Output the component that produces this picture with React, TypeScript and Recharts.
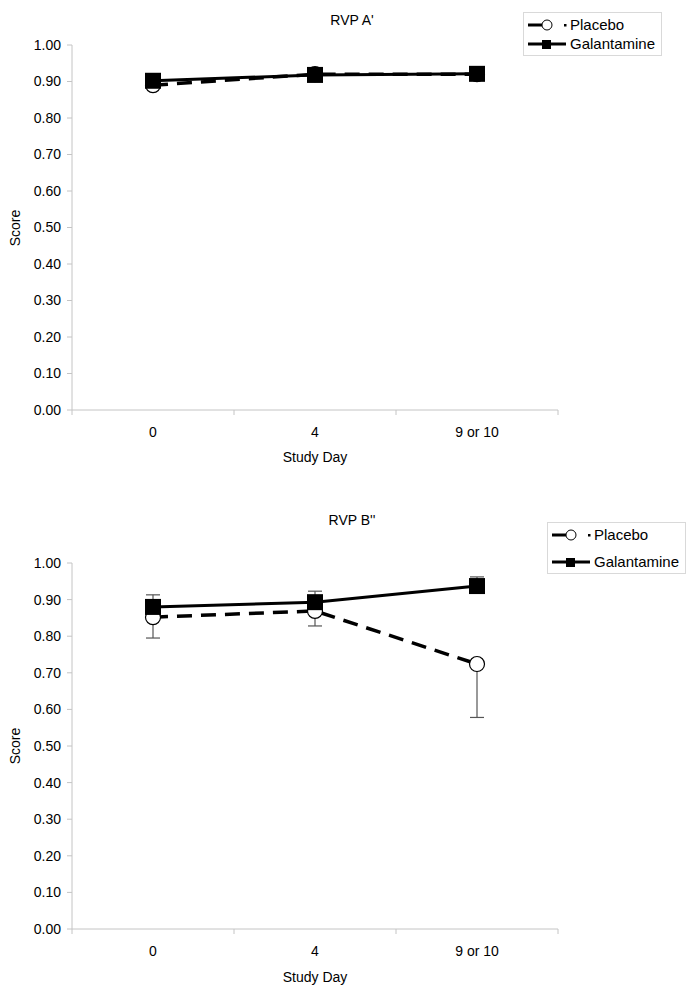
import React from 'react';
import {
  LineChart,
  Line,
  XAxis,
  YAxis,
  ErrorBar
} from 'recharts';

// study days (categories)
const days = ['0', '4', '9 or 10'];
const scoreTicks = [0, 0.1, 0.2, 0.3, 0.4, 0.5, 0.6, 0.7, 0.8, 0.9, 1.0];

// RVP A'
const placeboA = [0.89, 0.92, 0.92];
const galantamineA = [0.902, 0.918, 0.921];

// RVP B''
const placeboB = [0.852, 0.869, 0.724];
const placeboBErrDown = [0.057, 0.041, 0.146];
const galantamineB = [0.88, 0.893, 0.937];
const galantamineBErrUp = [0.033, 0.03, 0.025];

const FONT = '"Liberation Sans", Arial, sans-serif';
const AXIS_GREY = '#c4c4c4';
const PLOT_LEFT = 72;
const PLOT_RIGHT = 558;
const BAND = (PLOT_RIGHT - PLOT_LEFT) / days.length;

const SquareDot = (props: any) => {
  const { cx, cy } = props;
  if (cx == null || cy == null) return null;
  return <rect x={cx - 8} y={cy - 8} width={16} height={16} fill="#000" />;
};

const CircleDot = (props: any) => {
  const { cx, cy } = props;
  if (cx == null || cy == null) return null;
  return <circle cx={cx} cy={cy} r={7.5} fill="#fff" stroke="#000" strokeWidth={1.2} />;
};

// label in the middle of each band, tick marks on the band edges
const DayTick = (props: any) => {
  const { x, y, payload, index } = props;
  return (
    <g>
      <line x1={x - BAND / 2} x2={x - BAND / 2} y1={y} y2={y + 5} stroke={AXIS_GREY} />
      {index === days.length - 1 && (
        <line x1={x + BAND / 2} x2={x + BAND / 2} y1={y} y2={y + 5} stroke={AXIS_GREY} />
      )}
      <text x={x} y={y + 27} textAnchor="middle" fontSize={14} fontFamily={FONT} fill="#000">
        {payload.value}
      </text>
    </g>
  );
};

const LegendBox = ({ left, top, rowGap }: { left: number; top: number; rowGap: number }) => (
  <div
    style={{
      position: 'absolute',
      left,
      top,
      border: '1px solid #d9d9d9',
      background: '#fff',
      padding: '3px 6px 3px 4px',
      fontFamily: FONT,
      fontSize: 15,
      color: '#000',
      lineHeight: '17px'
    }}
  >
    <div style={{ display: 'flex', alignItems: 'center' }}>
      <svg width={42} height={14}>
        <line x1={0} x2={14} y1={7} y2={7} stroke="#000" strokeWidth={3} />
        <circle cx={19} cy={7} r={5} fill="#fff" stroke="#000" strokeWidth={1} />
        <rect x={36} y={6} width={2.5} height={2.5} fill="#000" />
      </svg>
      <span>Placebo</span>
    </div>
    <div style={{ display: 'flex', alignItems: 'center', marginTop: rowGap }}>
      <svg width={42} height={14}>
        <line x1={0} x2={38} y1={7} y2={7} stroke="#000" strokeWidth={3} />
        <rect x={14} y={3} width={9} height={9} fill="#000" />
      </svg>
      <span>Galantamine</span>
    </div>
  </div>
);

interface PanelProps {
  title: string;
  height: number;
  plotTop: number;
  plotBottom: number;
  placebo: number[];
  galantamine: number[];
  placeboErr?: number[];
  galantamineErr?: number[];
  legendLeft: number;
  legendTop: number;
  legendGap: number;
  xLabelOffset: number;
}

const Panel = ({
  title,
  height,
  plotTop,
  plotBottom,
  placebo,
  galantamine,
  placeboErr,
  galantamineErr,
  legendLeft,
  legendTop,
  legendGap,
  xLabelOffset
}: PanelProps) => {
  const data = days.map((d, i) => ({
    day: d,
    placebo: placebo[i],
    galantamine: galantamine[i],
    pErr: placeboErr ? [placeboErr[i], 0] : undefined,
    gErr: galantamineErr ? [0, galantamineErr[i]] : undefined
  }));
  const plotMid = (plotTop + plotBottom) / 2;

  return (
    <div style={{ position: 'relative', width: 690, height }}>
      <LineChart
        width={690}
        height={height}
        data={data}
        margin={{ top: plotTop, right: 690 - PLOT_RIGHT, bottom: height - plotBottom - 30, left: 0 }}
      >
        <XAxis
          dataKey="day"
          scale="band"
          height={30}
          axisLine={{ stroke: AXIS_GREY }}
          tickLine={false}
          tickSize={0}
          tickMargin={0}
          tick={<DayTick />}
          interval={0}
          label={{ value: 'Study Day', position: 'bottom', offset: xLabelOffset, fontSize: 14, fontFamily: FONT, fill: '#000' }}
        />
        <YAxis
          width={PLOT_LEFT}
          domain={[0, 1]}
          ticks={scoreTicks}
          interval={0}
          tickFormatter={(v: number) => v.toFixed(2)}
          axisLine={{ stroke: AXIS_GREY }}
          tickLine={{ stroke: AXIS_GREY }}
          tickSize={5}
          tickMargin={6}
          tick={{ fontSize: 14, fontFamily: FONT, fill: '#000' }}
        />
        <Line
          dataKey="placebo"
          name="Placebo"
          stroke="#000"
          strokeWidth={3.5}
          strokeDasharray="15 9"
          dot={<CircleDot />}
          activeDot={false}
          isAnimationActive={false}
        >
          {placeboErr && (
            <ErrorBar dataKey="pErr" direction="y" width={7} stroke="#555" strokeWidth={1.2} />
          )}
        </Line>
        <Line
          dataKey="galantamine"
          name="Galantamine"
          stroke="#000"
          strokeWidth={3}
          dot={<SquareDot />}
          activeDot={false}
          isAnimationActive={false}
        >
          {galantamineErr && (
            <ErrorBar dataKey="gErr" direction="y" width={7} stroke="#555" strokeWidth={1.2} />
          )}
        </Line>
      </LineChart>
      <div
        style={{
          position: 'absolute',
          left: 352,
          top: 12,
          transform: 'translateX(-50%)',
          whiteSpace: 'nowrap',
          fontFamily: FONT,
          fontSize: 14
        }}
      >
        {title}
      </div>
      <div
        style={{
          position: 'absolute',
          left: 15,
          top: plotMid,
          transform: 'translate(-50%, -50%) rotate(-90deg)',
          fontFamily: FONT,
          fontSize: 14
        }}
      >
        Score
      </div>
      <LegendBox left={legendLeft} top={legendTop} rowGap={legendGap} />
    </div>
  );
};

export default function App() {
  return (
    <div style={{ position: 'absolute', left: 0, top: 0, width: 690, height: 991, background: '#fff' }}>
      <Panel
        title="RVP A'"
        height={500}
        plotTop={45}
        plotBottom={410}
        placebo={placeboA}
        galantamine={galantamineA}
        legendLeft={523}
        legendTop={12}
        legendGap={2}
        xLabelOffset={12}
      />
      <Panel
        title="RVP B''"
        height={491}
        plotTop={63}
        plotBottom={429}
        placebo={placeboB}
        galantamine={galantamineB}
        placeboErr={placeboBErrDown}
        galantamineErr={galantamineBErrUp}
        legendLeft={547}
        legendTop={22}
        legendGap={10}
        xLabelOffset={13}
      />
    </div>
  );
}
